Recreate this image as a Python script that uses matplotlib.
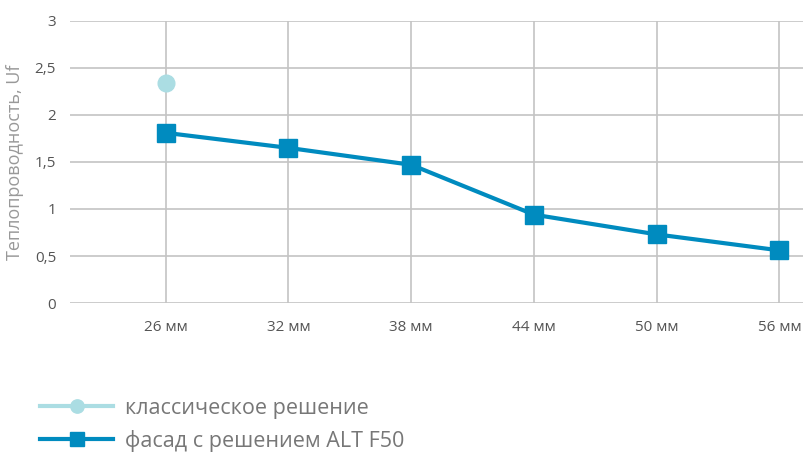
import numpy as np
import matplotlib
matplotlib.use("Agg")
import matplotlib.pyplot as plt

plt.rcParams['font.family'] = ['Liberation Sans Narrow', 'Open Sans', 'DejaVu Sans']

# data
categories = ["26 мм", "32 мм", "38 мм", "44 мм", "50 мм", "56 мм"]
alt_f50 = [1.81, 1.65, 1.47, 0.94, 0.73, 0.56]
classic_x = ["26 мм"]
classic = [2.34]
yticks = [0, 0.5, 1, 1.5, 2, 2.5, 3]
ytick_labels = ["0", "0,5", "1", "1,5", "2", "2,5", "3"]

blue = "#008bbf"
light = "#abdde3"
grid_col = "#c4c4c4"
text_col = "#555555"

fig = plt.figure(figsize=(8.04, 4.55), dpi=100)
ax = fig.add_axes([0.087, 0.334, 0.913, 0.620])

x = np.arange(len(categories))
cx = [categories.index(c) for c in classic_x]

ax.plot(cx, classic, color=light, lw=3, marker="o", markersize=12,
        label="классическое решение", zorder=3)
ax.plot(x, alt_f50, color=blue, lw=3, marker="s", markersize=13,
        label="фасад с решением ALT F50", zorder=4)

ax.set_xlim(-0.78, 5.2)
ax.set_ylim(0, 3)
ax.set_xticks(x)
ax.set_xticklabels(categories)
ax.set_yticks(yticks)
ax.set_yticklabels(ytick_labels)

ax.grid(True, color=grid_col, lw=1.2)
ax.set_axisbelow(True)
for s in ax.spines.values():
    s.set_visible(False)
ax.tick_params(length=0, colors=text_col, labelsize=11)
ax.tick_params(axis="x", pad=12)
ax.tick_params(axis="y", pad=10)

ax.set_ylabel("Теплопроводность, Uf", color="#999999", fontsize=13, labelpad=8)

fig.legend(loc="lower left", bbox_to_anchor=(0.026, -0.035), frameon=False,
           handlelength=3.4, handletextpad=0.55, labelspacing=0.5,
           markerscale=0.8, fontsize=15.5, labelcolor="#777777")

fig.savefig("out.png", dpi=100)
